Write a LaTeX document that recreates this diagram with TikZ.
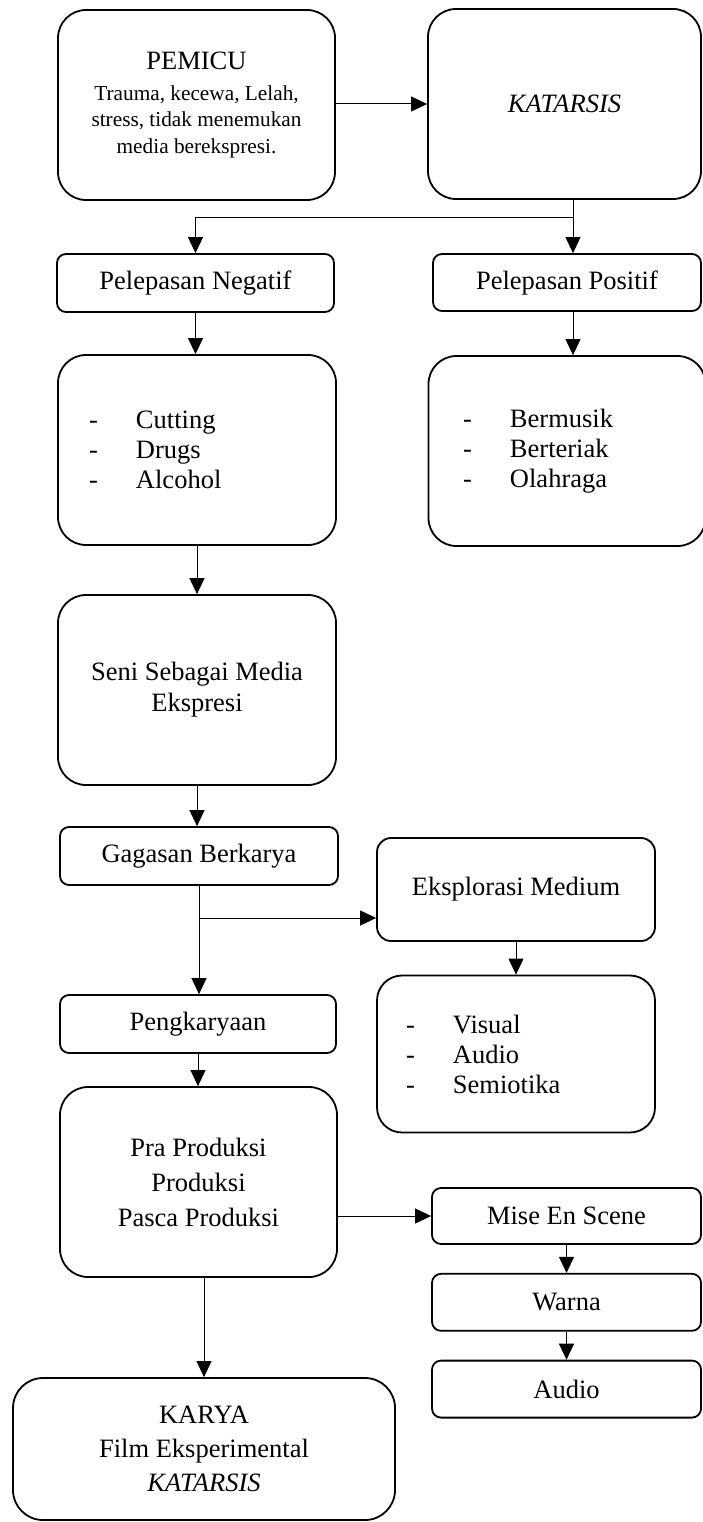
\documentclass[tikz,border=0pt]{standalone}
\usepackage{fontspec}
\setmainfont{Liberation Serif}
\usetikzlibrary{arrows.meta, positioning}

\newcommand{\listdash}{\makebox[47pt][l]{-}}

\begin{document}
\begin{tikzpicture}[
    x=1pt, y=-1pt,
    node distance=28pt,
    bigbox/.style={
        rectangle, draw, line width=1.8pt, rounded corners=28pt,
        align=center, minimum width=277pt, minimum height=190pt,
        font=\fontsize{26.5}{30}\selectfont
    },
    smallbox/.style={
        rectangle, draw, line width=1.8pt, rounded corners=9pt,
        align=center, minimum width=277pt, minimum height=57pt,
        font=\fontsize{26.5}{30}\selectfont
    },
    listbox/.style={bigbox, align=left},
    arr/.style={-{Triangle[length=16pt, width=15pt]}, line width=1pt},
    line/.style={line width=1pt},
]
\useasboundingbox (0,0) rectangle (703,1522);
\node[bigbox, font=\fontsize{21.3}{26.5}\selectfont] (pemicu) at (196.5,105)
    {{\fontsize{26.5}{30}\selectfont PEMICU}\\[4pt] Trauma, kecewa, Lelah,\\ stress, tidak menemukan\\ media berekspresi.};
\node[bigbox, minimum width=273pt, font=\fontsize{26.5}{30}\selectfont\itshape] (katarsis) at (564.5,104) {KATARSIS};
\node[smallbox, minimum height=58pt] (negatif) at (195.5,283) {Pelepasan Negatif};
\node[smallbox, minimum width=268pt] (positif) at (567,282.5) {Pelepasan Positif};
\node[listbox, text width=216pt, inner xsep=31pt] (neglist) at (197,450)
    {\listdash Cutting\\ \listdash Drugs\\ \listdash Alcohol};
\node[listbox, text width=208pt, inner xsep=30pt] (poslist) at (567,451)
    {\listdash Bermusik\\ \listdash Berteriak\\ \listdash Olahraga};
\node[bigbox, minimum width=278pt, font=\fontsize{26.5}{31}\selectfont] (seni) at (197,690)
    {Seni Sebagai Media\\ Ekspresi};
\node[smallbox, minimum width=278pt, minimum height=58pt] (gagasan) at (199,856) {Gagasan Berkarya};
\node[smallbox, minimum width=278pt, minimum height=103pt, rounded corners=14pt] (eksplorasi) at (516,889.5) {Eksplorasi Medium};
\node[listbox, text width=220pt, inner xsep=29pt, minimum height=157pt, rounded corners=25pt] (medlist) at (516,1054)
    {\listdash Visual\\ \listdash Audio\\ \listdash Semiotika};
\node[smallbox, minimum width=276pt, minimum height=58pt] (pengkaryaan) at (198,1024) {Pengkaryaan};
\node[bigbox, font=\fontsize{26.5}{35}\selectfont] (produksi) at (198.5,1182)
    {Pra Produksi\\ Produksi\\ Pasca Produksi};
\node[smallbox, minimum width=269pt, minimum height=56pt] (mise) at (566.5,1216) {Mise En Scene};
\node[smallbox, minimum width=269pt, below=of mise] (warna) {Warna};
\node[smallbox, minimum width=269pt, below=of warna] (audio) {Audio};
\node[bigbox, minimum width=382pt, minimum height=142pt, rounded corners=30pt, font=\fontsize{26.5}{34}\selectfont] (karya) at (204,1449)
    {KARYA\\ Film Eksperimental\\ \textit{KATARSIS}};

\coordinate (split) at (573,218);
\coordinate (fork) at (199,918);
\draw[arr] (pemicu.east |- katarsis.west) -- (katarsis.west);
\draw[line] (split |- katarsis.south) -- (split);
\draw[arr] (split) -| (negatif.north);
\draw[arr] (split) -- (split |- positif.north);
\draw[arr] (negatif.south) -- (negatif.south |- neglist.north);
\draw[arr] (split |- positif.south) -- (split |- poslist.north);
\draw[arr] (neglist.south) -- (neglist.south |- seni.north);
\draw[arr] (seni.south) -- (seni.south |- gagasan.north);
\draw[arr] (gagasan.south) -- (gagasan.south |- pengkaryaan.north);
\draw[arr] (fork) -- (fork -| eksplorasi.west);
\draw[arr] (eksplorasi.south) -- (medlist.north);
\draw[arr] (pengkaryaan.south) -- (pengkaryaan.south |- produksi.north);
\draw[arr] (produksi.east |- mise.west) -- (mise.west);
\draw[arr] (mise.south) -- (warna.north);
\draw[arr] (warna.south) -- (audio.north);
\draw[arr] (karya.north |- produksi.south) -- (karya.north);
\end{tikzpicture}
\end{document}
